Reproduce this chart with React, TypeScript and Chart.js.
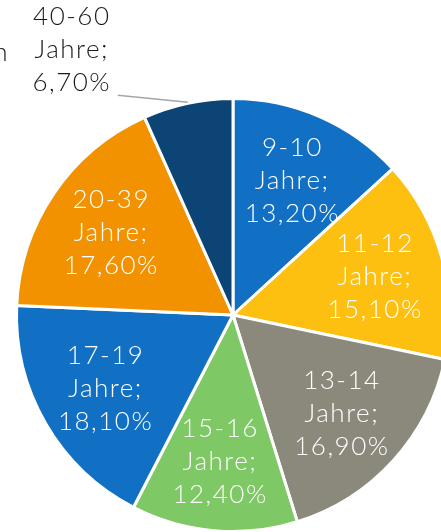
import React, { useEffect, useRef } from "react";
import { Chart, registerables } from "chart.js";

Chart.register(...registerables);

const categories = ["9-10", "11-12", "13-14", "15-16", "17-19", "20-39", "40-60"];
const values = [13.2, 15.1, 16.9, 12.4, 18.1, 17.6, 6.7];
const colors = ["#1170C4", "#FDC010", "#8B897B", "#7EC865", "#1170C4", "#F29200", "#0C4476"];
const unitLabel = "Jahre;";
const outsideIndex = 6;
const clippedTitle = "n";

const FONT = "Lato, 'Open Sans', sans-serif";

const fmt = (v: number) => v.toFixed(2).replace(".", ",") + "%";

const labelPlugin = {
  id: "sliceLabels",
  afterDatasetsDraw(chart: any) {
    const ctx = chart.ctx as CanvasRenderingContext2D;
    const meta = chart.getDatasetMeta(0);
    ctx.save();
    ctx.font = `300 26px ${FONT}`;
    (ctx as any).letterSpacing = "1.5px";
    ctx.textAlign = "center";
    ctx.textBaseline = "middle";
    const lh = 33;
    meta.data.forEach((arc: any, i: number) => {
      const { x, y, startAngle, endAngle, outerRadius } = arc.getProps(
        ["x", "y", "startAngle", "endAngle", "outerRadius"],
        true
      );
      const mid = (startAngle + endAngle) / 2;
      const lines = [categories[i], unitLabel, fmt(values[i])];
      if (i === outsideIndex) {
        const ex = x + Math.cos(mid) * outerRadius;
        const ey = y + Math.sin(mid) * outerRadius;
        const lx = ex - 70;
        const ly = ey - 8;
        ctx.strokeStyle = "#A6A6A6";
        ctx.lineWidth = 1.5;
        ctx.beginPath();
        ctx.moveTo(ex, ey - 1);
        ctx.lineTo(lx, ly);
        ctx.stroke();
        ctx.fillStyle = "#1A1A1A";
        const cx = lx - 46;
        const cyLast = ly - 13;
        lines.forEach((t, k) => ctx.fillText(t, cx, cyLast - (2 - k) * lh));
      } else {
        const r = outerRadius * 0.68;
        const cx = x + Math.cos(mid) * r;
        const cy = y + Math.sin(mid) * r;
        ctx.fillStyle = "#FFFFFF";
        lines.forEach((t, k) => ctx.fillText(t, cx, cy + (k - 1) * lh));
      }
    });
    ctx.fillStyle = "#1A1A1A";
    ctx.textAlign = "right";
    ctx.textBaseline = "alphabetic";
    ctx.fillText(clippedTitle, 9, 61);
    ctx.restore();
  },
};

export default function App() {
  const ref = useRef<HTMLCanvasElement | null>(null);
  useEffect(() => {
    if (!ref.current) return;
    const chart = new Chart(ref.current, {
      type: "pie",
      data: {
        labels: categories,
        datasets: [
          {
            data: values,
            backgroundColor: colors,
            borderColor: "#FFFFFF",
            borderWidth: 3,
          },
        ],
      },
      options: {
        animation: false,
        responsive: false,
        devicePixelRatio: 1,
        layout: { padding: 15 },
        plugins: {
          legend: { display: false },
          tooltip: { enabled: false },
        },
      },
      plugins: [labelPlugin],
    });
    return () => chart.destroy();
  }, []);
  return (
    <div
      style={{
        position: "fixed",
        left: 0,
        top: 0,
        width: 441,
        height: 532,
        overflow: "hidden",
        background: "#FFFFFF",
      }}
    >
      <canvas
        ref={ref}
        width={466}
        height={630}
        style={{ position: "absolute", left: 0, top: 0, display: "block", width: 466, height: 630 }}
      />
    </div>
  );
}
